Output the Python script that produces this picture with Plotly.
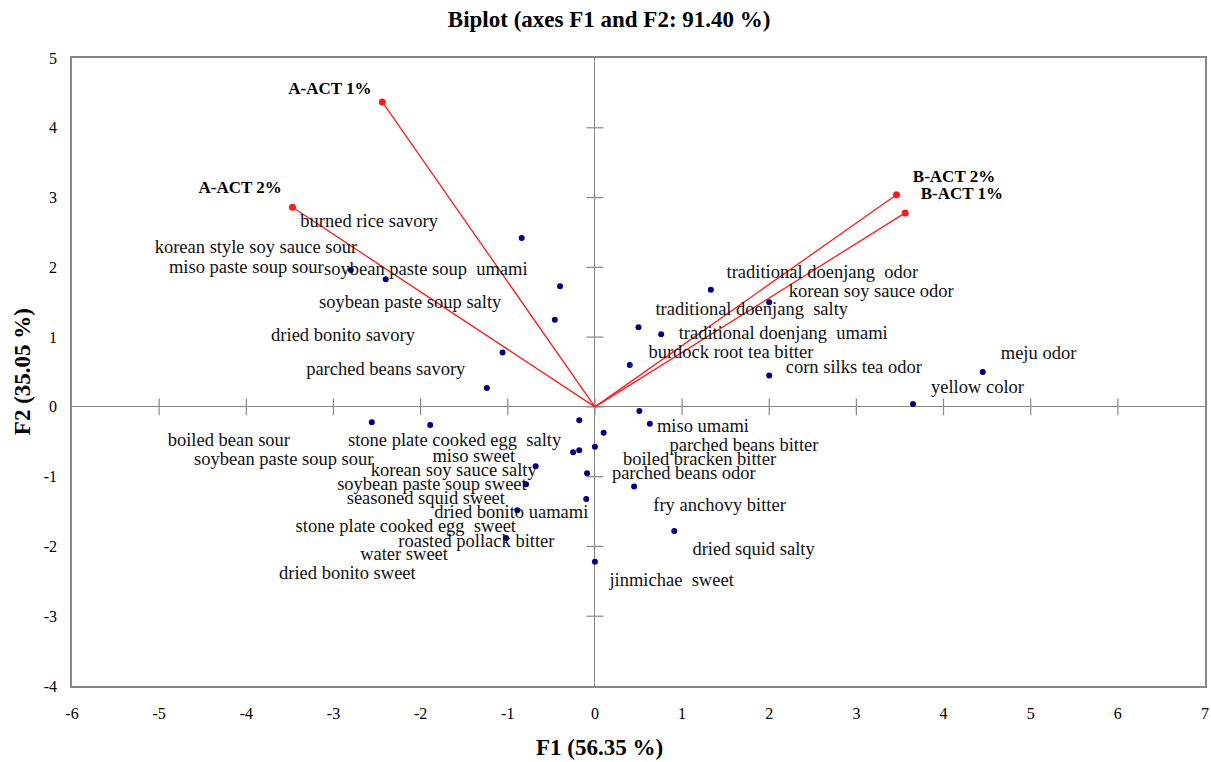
import plotly.graph_objects as go

# ---- data ----
vector_names = ["A-ACT 1%", "A-ACT 2%", "B-ACT 2%", "B-ACT 1%"]
vector_x = [-2.44, -3.47, 3.46, 3.56]
vector_y = [4.37, 2.86, 3.04, 2.78]
vector_label_x = [-3.04, -4.07, 4.12, 4.21]
vector_label_y = [4.55, 3.12, 3.29, 3.04]

point_x = [-0.84, -2.80, -2.40, -0.40, -0.46, -1.06, -1.24,
           1.33, 2.00, 0.50, 0.76, 0.40, 2.00, 4.45, 3.65, 0.51,
           -2.56, -1.89, -0.18, -0.25, -0.18, 0.00, -0.68, -0.79, -0.09, -0.10,
           -0.89, -1.02, 0.00, 0.63, 0.10, 0.45, 0.91]
point_y = [2.42, 1.96, 1.83, 1.73, 1.25, 0.78, 0.27,
           1.68, 1.50, 1.14, 1.04, 0.60, 0.45, 0.50, 0.04, -0.06,
           -0.22, -0.26, -0.19, -0.65, -0.62, -0.57, -0.85, -1.11, -0.95, -1.32,
           -1.48, -1.88, -2.22, -0.24, -0.37, -1.14, -1.78]

labels = ["burned rice savory", "korean style soy sauce sour", "miso paste soup sour",
          "soybean paste soup  umami", "soybean paste soup salty", "dried bonito savory",
          "parched beans savory",
          "traditional doenjang  odor", "korean soy sauce odor", "traditional doenjang  salty",
          "traditional doenjang  umami", "burdock root tea bitter", "corn silks tea odor",
          "meju odor", "yellow color",
          "miso umami", "parched beans bitter", "boiled bracken bitter", "parched beans odor",
          "fry anchovy bitter", "dried squid salty", "jinmichae  sweet",
          "boiled bean sour", "stone plate cooked egg  salty", "soybean paste soup sour",
          "miso sweet", "korean soy sauce salty", "soybean paste soup sweet",
          "seasoned squid sweet", "dried bonito uamami", "stone plate cooked egg  sweet",
          "roasted pollack bitter", "water sweet", "dried bonito sweet"]
label_x = [-2.59, -3.89, -4.00, -1.94, -2.12, -2.89, -2.40,
           2.61, 3.17, 1.80, 2.16, 1.56, 2.97, 5.09, 4.39,
           1.24, 1.71, 1.20, 1.02, 1.43, 1.82, 0.88,
           -4.20, -1.61, -3.57, -1.39, -1.62, -1.87, -1.94, -0.96, -2.17, -1.36, -2.19, -2.84]
label_y = [2.65, 2.27, 1.99, 1.96, 1.48, 1.01, 0.52,
           1.91, 1.64, 1.38, 1.04, 0.76, 0.55, 0.75, 0.26,
           -0.30, -0.56, -0.76, -0.96, -1.42, -2.06, -2.50,
           -0.50, -0.49, -0.76, -0.72, -0.92, -1.12, -1.32, -1.53, -1.73, -1.94, -2.13, -2.40]

x_ticks = [-6, -5, -4, -3, -2, -1, 0, 1, 2, 3, 4, 5, 6, 7]
y_ticks = [-4, -3, -2, -1, 0, 1, 2, 3, 4, 5]
x_tick_text = [str(t) for t in x_ticks]
y_tick_text = [str(t) for t in y_ticks]

FONT = "Liberation Serif, Times New Roman, serif"
AXIS_GRAY = "#888888"

fig = go.Figure()

# ticks on the zero lines
fig.add_trace(go.Scatter(x=[t for t in x_ticks if t not in (-6, 7)], y=[0] * 12,
                         mode="markers", hoverinfo="skip",
                         marker=dict(symbol="line-ns", size=12, line=dict(color=AXIS_GRAY, width=1.2))))
fig.add_trace(go.Scatter(x=[0] * 8, y=[t for t in y_ticks if t not in (-4, 5)],
                         mode="markers", hoverinfo="skip",
                         marker=dict(symbol="line-ew", size=12, line=dict(color=AXIS_GRAY, width=1.2))))

# vectors
for vx, vy in zip(vector_x, vector_y):
    fig.add_trace(go.Scatter(x=[0, vx], y=[0, vy], mode="lines",
                             line=dict(color="#ff1a1a", width=1.3), hoverinfo="skip"))
fig.add_trace(go.Scatter(x=vector_x, y=vector_y, mode="markers",
                         marker=dict(color="#ff1a1a", size=7)))
fig.add_trace(go.Scatter(x=vector_label_x, y=vector_label_y, mode="text", text=vector_names,
                         textfont=dict(family=FONT, size=17, color="black", weight="bold")))

# variable points
fig.add_trace(go.Scatter(x=point_x, y=point_y, mode="markers",
                         marker=dict(color="#000080", size=6)))
fig.add_trace(go.Scatter(x=label_x, y=label_y, mode="text", text=labels,
                         textfont=dict(family=FONT, size=18.5, color="#111111")))

fig.update_layout(
    width=1211, height=762,
    paper_bgcolor="white", plot_bgcolor="white",
    showlegend=False,
    margin=dict(l=72, r=6, t=58, b=76, autoexpand=False),
    title=dict(text="<b>Biplot (axes F1 and F2: 91.40 %)</b>", x=0.503, xanchor="center",
               y=0.975, yanchor="middle", font=dict(family=FONT, size=23, color="black")),
    font=dict(family=FONT, color="black"),
    annotations=[
        dict(text="<b>F1 (56.35 %)</b>", xref="paper", yref="paper", x=0.466, y=-0.098,
             xanchor="center", yanchor="middle", showarrow=False,
             font=dict(family=FONT, size=23, color="black")),
        dict(text="<b>F2 (35.05 %)</b>", xref="paper", yref="paper", x=-0.044, y=0.5,
             xanchor="center", yanchor="middle", showarrow=False, textangle=-90,
             font=dict(family=FONT, size=23, color="black")),
    ],
)
fig.update_xaxes(range=[-6, 7], tickvals=x_ticks, ticktext=x_tick_text, ticks="", showgrid=False,
                 zeroline=True, zerolinecolor=AXIS_GRAY, zerolinewidth=1.2, automargin=False,
                 showline=True, linecolor=AXIS_GRAY, linewidth=1.5, mirror=True,
                 tickfont=dict(family=FONT, size=16, color="black"), ticklabelstandoff=12)
fig.update_yaxes(range=[-4, 5], tickvals=y_ticks, ticktext=y_tick_text, ticks="", showgrid=False,
                 zeroline=True, zerolinecolor=AXIS_GRAY, zerolinewidth=1.2, automargin=False,
                 showline=True, linecolor=AXIS_GRAY, linewidth=1.5, mirror=True,
                 tickfont=dict(family=FONT, size=16, color="black"), ticklabelstandoff=10)

fig.write_html("out.html", config={"displayModeBar": False},
               post_script="document.body.style.margin='0';document.body.style.overflow='hidden';")
